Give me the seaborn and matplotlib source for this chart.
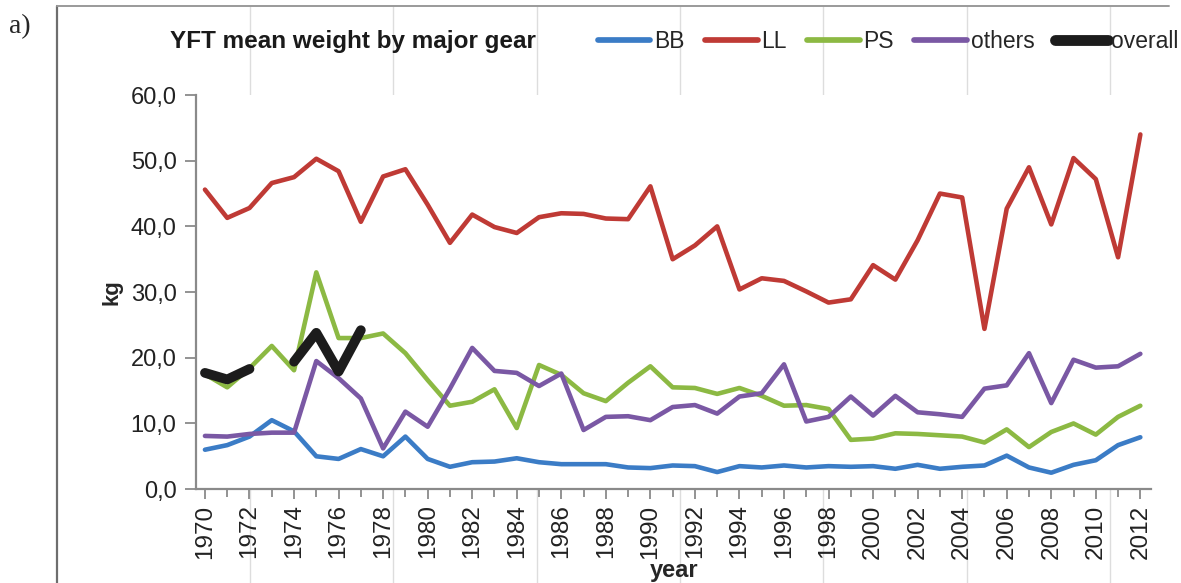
import numpy as np
import pandas as pd
import matplotlib.pyplot as plt
import seaborn as sns
from matplotlib.lines import Line2D

# %% data (mean weight, kg)
years = list(range(1970, 2013))

bb = [6.0, 6.7, 8.0, 10.5, 8.8, 5.0, 4.6, 6.1, 5.0, 8.0,
      4.6, 3.4, 4.1, 4.2, 4.7, 4.1, 3.8, 3.8, 3.8, 3.3,
      3.2, 3.6, 3.5, 2.6, 3.5, 3.3, 3.6, 3.3, 3.5, 3.4,
      3.5, 3.1, 3.7, 3.1, 3.4, 3.6, 5.1, 3.3, 2.5, 3.7,
      4.4, 6.7, 7.9]

ll = [45.6, 41.3, 42.8, 46.6, 47.5, 50.3, 48.4, 40.7, 47.6, 48.7,
      43.3, 37.5, 41.8, 39.9, 39.0, 41.4, 42.0, 41.9, 41.2, 41.1,
      46.1, 35.0, 37.1, 40.0, 30.4, 32.1, 31.7, 30.1, 28.4, 28.9,
      34.1, 31.9, 37.9, 45.0, 44.4, 24.4, 42.7, 49.0, 40.3, 50.4,
      47.2, 35.3, 54.0]

ps = [17.5, 15.5, 18.4, 21.8, 18.1, 33.0, 23.0, 23.0, 23.7, 20.7,
      16.6, 12.7, 13.3, 15.2, 9.3, 18.9, 17.4, 14.6, 13.4, 16.2,
      18.7, 15.5, 15.4, 14.5, 15.4, 14.2, 12.7, 12.8, 12.2, 7.5,
      7.7, 8.5, 8.4, 8.2, 8.0, 7.1, 9.1, 6.4, 8.7, 10.0,
      8.3, 11.0, 12.7]

others = [8.1, 8.0, 8.4, 8.6, 8.6, 19.5, 16.9, 13.8, 6.2, 11.8,
          9.5, 15.3, 21.5, 18.0, 17.7, 15.7, 17.6, 9.0, 11.0, 11.1,
          10.5, 12.5, 12.8, 11.5, 14.1, 14.6, 19.0, 10.3, 11.0, 14.1,
          11.2, 14.2, 11.7, 11.4, 11.0, 15.3, 15.8, 20.7, 13.1, 19.7,
          18.5, 18.7, 20.6]

# only fragments of the overall line survive in the figure
overall = [17.7, 16.7, 18.3, np.nan, 19.4, 23.8, 17.9, 24.2] + [np.nan] * 35

gears = ["BB", "LL", "PS", "others", "overall"]
colors = ["#3b7cc6", "#bf3a35", "#8cb943", "#7a58a4", "#1c1c1c"]
widths = [3.3, 3.3, 3.3, 3.3, 7.0]

tick_years = list(range(1970, 2013, 2))
ytick_vals = [0, 10, 20, 30, 40, 50, 60]
ytick_labels = ["0,0", "10,0", "20,0", "30,0", "40,0", "50,0", "60,0"]

# %%
df = pd.DataFrame({"year": years, "BB": bb, "LL": ll, "PS": ps,
                   "others": others, "overall": overall})
long = df.melt(id_vars="year", var_name="gear", value_name="kg")
# split each series at missing values so gaps stay gaps
long["seg"] = long.groupby("gear")["kg"].transform(lambda s: s.isna().cumsum())
long = long.dropna()

sns.set_style("white")
plt.rcParams["font.family"] = ["Liberation Sans", "DejaVu Sans"]

fig = plt.figure(figsize=(11.81, 5.83), dpi=100)
ax = fig.add_axes([0.166, 0.161, 0.809, 0.676])

for g, c, w in zip(gears, colors, widths):
    sub = long[long["gear"] == g]
    sns.lineplot(data=sub, x="year", y="kg", units="seg", estimator=None,
                 color=c, lw=w, ax=ax, solid_capstyle="round")

ax.set_xlim(1969.6, 2012.5)
ax.set_ylim(0, 60)
ax.set_yticks(ytick_vals)
ax.set_yticklabels(ytick_labels, fontsize=17, color="#222222")
ax.set_xticks(tick_years)
ax.set_xticklabels([str(y) for y in tick_years], rotation=90, fontsize=17.5,
                   color="#222222")
ax.set_xticks(years, minor=True)
ax.tick_params(axis="both", which="both", direction="out", color="#8a8a8a",
               width=1.3, bottom=True, left=True)
ax.tick_params(axis="y", length=8, pad=6)
ax.tick_params(axis="x", which="major", length=7, pad=4)
ax.tick_params(axis="x", which="minor", length=6)

for side in ["top", "right"]:
    ax.spines[side].set_visible(False)
for side in ["left", "bottom"]:
    ax.spines[side].set_color("#8a8a8a")
    ax.spines[side].set_linewidth(1.6)

ax.set_xlabel("year", fontsize=17, fontweight="bold", labelpad=0)
ax.set_ylabel("kg", fontsize=16, fontweight="bold", labelpad=6)

fig.text(0.144, 0.928, "YFT mean weight by major gear", fontsize=17.5,
         fontweight="bold", va="center", ha="left", color="#1a1a1a")
fig.text(0.008, 0.955, "a)", fontsize=20, va="center", ha="left",
         family=["Liberation Serif", "DejaVu Serif"])

handles = [Line2D([], [], color=c, lw=w + 0.8) for c, w in zip(colors, widths)]
fig.legend(handles, gears, loc="center", bbox_to_anchor=(0.752, 0.928),
           ncol=5, frameon=False, fontsize=16.5, handlelength=2.3,
           handletextpad=0.15, columnspacing=0.9)

# panel frame and the faint scan seams
fig.add_artist(Line2D([0.048, 0.048], [0.0, 0.99], color="#6e6e6e", lw=1.6))
fig.add_artist(Line2D([0.048, 0.99], [0.99, 0.99], color="#9a9a9a", lw=1.4))
for xf in [0.212, 0.333, 0.455, 0.576, 0.697, 0.819, 0.940]:
    fig.add_artist(Line2D([xf, xf], [0.0, 0.99], color="#dddddd", lw=1.0,
                          zorder=0))

fig.savefig("out.png", dpi=100)
